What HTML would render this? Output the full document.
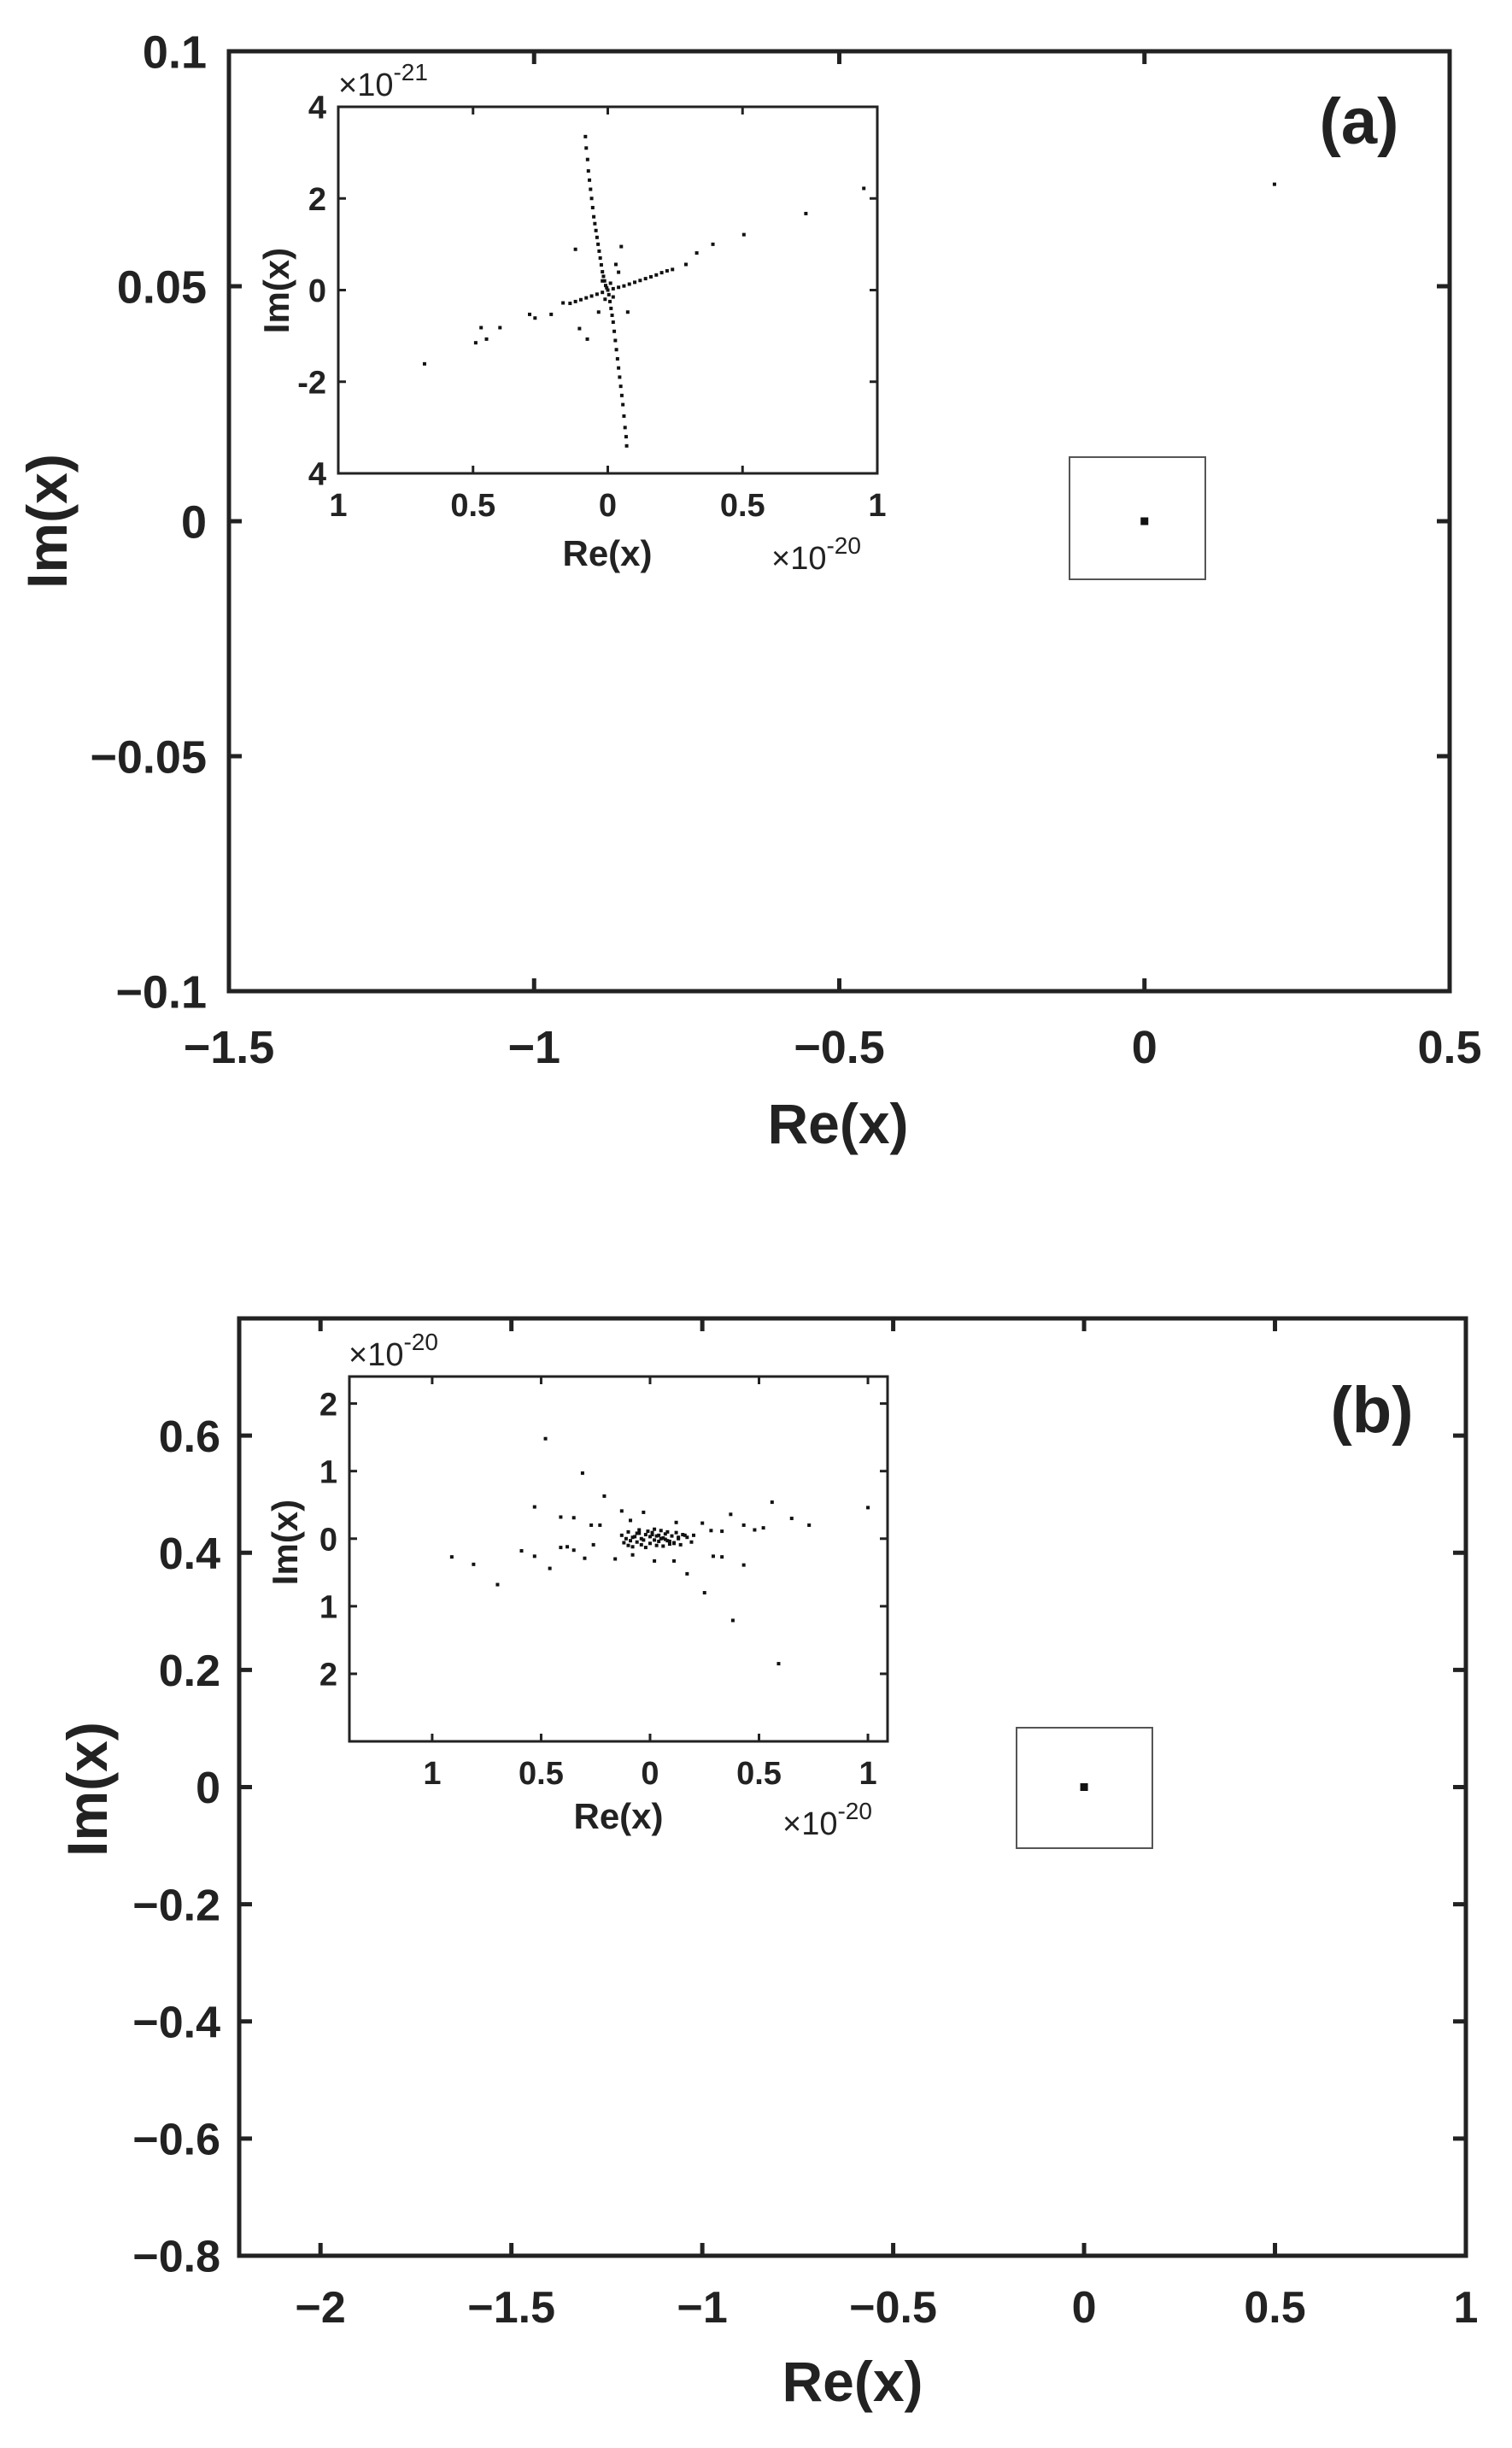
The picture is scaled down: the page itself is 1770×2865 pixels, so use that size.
<!DOCTYPE html>
<html><head><meta charset="utf-8"><style>
html,body{margin:0;padding:0;background:#fff;}
svg{display:block;font-family:"Liberation Sans",sans-serif;}
</style></head><body>
<svg id="fig" width="1770" height="2865" viewBox="0 0 1770 2865" xmlns="http://www.w3.org/2000/svg"></svg>
<script>
// ---------- DATA ----------
const aXTicks=[-1.5,-1,-0.5,0,0.5];
const aXTickLabels=["\u22121.5","\u22121","\u22120.5","0","0.5"];
const aYTicks=[0.1,0.05,0,-0.05,-0.1];
const aYTickLabels=["0.1","0.05","0","\u22120.05","\u22120.1"];
const aMainRe=[0,0.213];
const aMainIm=[0,0.0717];
const aInXTicks=[-1,-0.5,0,0.5,1];
const aInXTickLabels=["1","0.5","0","0.5","1"];
const aInYTicks=[4,2,0,-2,-4];
const aInYTickLabels=["4","2","0","-2","4"];
const aInRe=[-0.083,-0.08,-0.075,-0.072,-0.068,-0.064,-0.06,-0.056,-0.052,-0.048,-0.044,-0.04,-0.036,-0.032,-0.028,-0.024,-0.02,-0.016,-0.012,-0.008,-0.004,0,0.004,0.008,0.012,0.016,0.02,0.024,0.028,0.032,0.036,0.04,0.044,0.048,0.052,0.056,0.06,0.064,0.068,0.07,
 -0.68,0.95,0.735,0.505,0.39,0.33,0.29,0.24,0.22,0.2,0.18,0.16,0.14,0.12,0.1,0.08,0.06,0.04,0.02,-0.02,-0.04,-0.06,-0.08,-0.1,-0.12,-0.14,
 -0.12,0.05,-0.105,-0.076,-0.49,-0.47,-0.45,-0.40,-0.29,-0.27,-0.21,-0.166,0.074,-0.034,0.03,0.04,0.01,-0.01,0.02,-0.02];
const aInIm=[3.35,3.1,2.85,2.6,2.4,2.2,2.0,1.8,1.6,1.45,1.3,1.15,1.0,0.85,0.7,0.55,0.4,0.3,0.2,0.1,0.05,0,-0.1,-0.25,-0.4,-0.55,-0.7,-0.9,-1.1,-1.3,-1.5,-1.7,-1.9,-2.1,-2.3,-2.5,-2.75,-3.0,-3.2,-3.4,
 -1.61,2.22,1.67,1.21,1.0,0.81,0.56,0.45,0.42,0.38,0.33,0.29,0.25,0.21,0.17,0.13,0.09,0.06,0.03,-0.05,-0.09,-0.13,-0.17,-0.21,-0.25,-0.29,
 0.89,0.95,-0.84,-1.07,-1.15,-0.82,-1.07,-0.82,-0.53,-0.61,-0.53,-0.28,-0.48,-0.48,0.56,0.39,0.15,-0.2,-0.15,0.2];
const bXTicks=[-2,-1.5,-1,-0.5,0,0.5,1];
const bXTickLabels=["\u22122","\u22121.5","\u22121","\u22120.5","0","0.5","1"];
const bYTicks=[0.6,0.4,0.2,0,-0.2,-0.4,-0.6,-0.8];
const bYTickLabels=["0.6","0.4","0.2","0","\u22120.2","\u22120.4","\u22120.6","\u22120.8"];
const bMainRe=[0];
const bMainIm=[0];
const bInXTicks=[-1,-0.5,0,0.5,1];
const bInXTickLabels=["1","0.5","0","0.5","1"];
const bInYTicks=[2,1,0,-1,-2];
const bInYTickLabels=["2","1","0","1","2"];
const bInRe=[-0.48,-0.31,-0.21,-0.53,-0.13,-0.03,-0.41,-0.35,-0.27,-0.23,-0.09,0.12,0.24,0.37,0.56,0.65,0.73,1.0,0.43,0.48,0.52,0.28,0.33,0.2,
 -0.91,-0.81,-0.70,-0.59,-0.53,-0.46,-0.41,-0.38,-0.35,-0.30,-0.26,-0.16,-0.08,0.02,0.11,0.17,0.25,0.29,0.33,0.38,0.43,0.59,
 -0.13,-0.12,-0.1,-0.1,-0.08,-0.08,-0.06,-0.06,-0.05,-0.04,-0.04,-0.02,-0.02,-0.01,0,0,0.01,0.02,0.02,0.03,0.04,0.04,0.05,0.06,0.06,0.07,0.08,0.08,0.09,0.1,0.11,0.12,0.13,0.14,0.15,0.17,0.19,-0.11,-0.07,-0.03,0.01,0.05,0.09,0.13,0.16,-0.09,-0.05,0.03,0.07,0.11];
const bInIm=[1.48,0.97,0.63,0.47,0.41,0.39,0.32,0.31,0.2,0.2,0.27,0.24,0.23,0.36,0.54,0.30,0.2,0.46,0.2,0.13,0.16,0.12,0.11,0.05,
 -0.27,-0.38,-0.68,-0.18,-0.26,-0.44,-0.13,-0.12,-0.17,-0.29,-0.09,-0.3,-0.24,-0.33,-0.33,-0.52,-0.8,-0.26,-0.27,-1.21,-0.39,-1.85,
 0.05,-0.06,0.1,-0.1,0.02,-0.12,0.08,-0.05,0.13,0.0,-0.09,0.06,-0.13,0.11,0.03,-0.07,0.09,-0.02,0.14,-0.1,0.05,-0.04,0.12,0.01,-0.11,0.07,-0.03,0.1,-0.08,0.04,-0.06,0.09,0.0,-0.09,0.06,0.02,-0.05,0.0,0.03,-0.02,0.06,0.0,-0.04,0.02,0.05,-0.03,0.08,0.04,-0.01,-0.07,0.01];

// ---------- DRAWING ----------
const svg=document.getElementById('fig');
const NS='http://www.w3.org/2000/svg';
function mk(tag,attrs,parent){const e=document.createElementNS(NS,tag);for(const k in attrs)e.setAttribute(k,attrs[k]);(parent||svg).appendChild(e);return e;}
function txt(s,x,y,size,weight,anchor,parent,extra){const t=mk('text',Object.assign({x:x,y:y,'font-size':size,'font-weight':weight,'text-anchor':anchor,fill:'#222'},extra||{}),parent);t.textContent=s;return t;}

function axes(p){
  const g=mk('g',{});
  
  
  const sx=v=>p.L+(v-p.x0)/(p.x1-p.x0)*(p.R-p.L);
  const sy=v=>p.B-(v-p.y0)/(p.y1-p.y0)*(p.B-p.T);
  const box=mk('rect',{x:p.L,y:p.T,width:p.R-p.L,height:p.B-p.T,fill:'none',stroke:'#222','stroke-width':p.lw},g);
  
  
  p.xt.forEach((v,i)=>{
    const x=sx(v);
    mk('line',{x1:x,y1:p.B,x2:x,y2:p.B-p.tl,stroke:'#222','stroke-width':p.lw},g);
    mk('line',{x1:x,y1:p.T,x2:x,y2:p.T+p.tl,stroke:'#222','stroke-width':p.lw},g);
    const t=txt(p.xl[i],x,p.B+p.xoff,p.fs,'bold','middle',g);
    
    
  });
  p.yt.forEach((v,i)=>{
    const y=sy(v);
    mk('line',{x1:p.L,y1:y,x2:p.L+p.tl,y2:y,stroke:'#222','stroke-width':p.lw},g);
    mk('line',{x1:p.R,y1:y,x2:p.R-p.tl,y2:y,stroke:'#222','stroke-width':p.lw},g);
    const t=txt(p.yl[i],p.L-p.yoff,y+p.fs*0.36,p.fs,'bold','end',g);
    
    
  });
  p.xs.forEach((v,i)=>{
    const s=(p.sizes&&p.sizes[i])||p.ds;
    const d=mk('rect',{x:sx(v)-s/2,y:sy(p.ys[i])-s/2,width:s,height:s,fill:'#111'},g);
    
    
  });
  return g;
}

axes({name:'panel-a-axes',L:268,R:1697,T:60,B:1160,x0:-1.5,x1:0.5,y0:-0.1,y1:0.1,xt:aXTicks,xl:aXTickLabels,yt:aYTicks,yl:aYTickLabels,xs:aMainRe,ys:aMainIm,lw:5,tl:15,fs:54,xoff:84,yoff:26,ds:8,sizes:[9,4]});
axes({name:'panel-a-inset',L:396,R:1027,T:125,B:554,x0:-1,x1:1,y0:-4,y1:4,xt:aInXTicks,xl:aInXTickLabels,yt:aInYTicks,yl:aInYTickLabels,xs:aInRe,ys:aInIm,lw:3,tl:9,fs:38,xoff:50,yoff:14,ds:4});
axes({name:'panel-b-axes',L:280,R:1716,T:1543,B:2640,x0:-2.213,x1:1,y0:-0.8,y1:0.8,xt:bXTicks,xl:bXTickLabels,yt:bYTicks,yl:bYTickLabels,xs:bMainRe,ys:bMainIm,lw:5,tl:15,fs:52,xoff:78,yoff:22,ds:9});
axes({name:'panel-b-inset',L:409,R:1039,T:1611,B:2038,x0:-1.38,x1:1.09,y0:-3.0,y1:2.4,xt:bInXTicks,xl:bInXTickLabels,yt:bInYTicks,yl:bInYTickLabels,xs:bInRe,ys:bInIm,lw:3,tl:9,fs:38,xoff:50,yoff:14,ds:4});

let r=mk('rect',{x:1252,y:535,width:159,height:143,fill:'none',stroke:'#555','stroke-width':2});


r=mk('rect',{x:1190,y:2022,width:159,height:141,fill:'none',stroke:'#555','stroke-width':2});



function label(s,x,y,size,name,rot,weight){
  const t=txt(s,x,y,size,weight||'bold','middle',svg,rot?{transform:'rotate(-90 '+x+' '+y+')'}:{});
  
  
  return t;
}
label('Re(x)',981,1338,66,'x-axis-title-a');
label('Im(x)',78,610,66,'y-axis-title-a',true);
label('(a)',1591,168,76,'panel-label-a');
label('Re(x)',711,662,42,'inset-x-title-a');
label('Im(x)',338,340,42,'inset-y-title-a',true);
label('Re(x)',998,2810,66,'x-axis-title-b');
label('Im(x)',125,2094,66,'y-axis-title-b',true);
label('(b)',1606,1676,76,'panel-label-b');
label('Re(x)',724,2140,42,'inset-x-title-b');
label('Im(x)',348,1805,42,'inset-y-title-b',true);

function mult(x,y,exp,name){
  const t=mk('text',{x:x,y:y,'font-size':38,fill:'#222'});
  
  
  t.textContent='\u00d710';
  const ts=mk('tspan',{dy:-18,'font-size':28},t);ts.textContent=exp;
}
mult(396,112,'-21','inset-a-y-exponent');
mult(903,666,'-20','inset-a-x-exponent');
mult(408,1598,'-20','inset-b-y-exponent');
mult(916,2147,'-20','inset-b-x-exponent');
</script>
</body></html>
